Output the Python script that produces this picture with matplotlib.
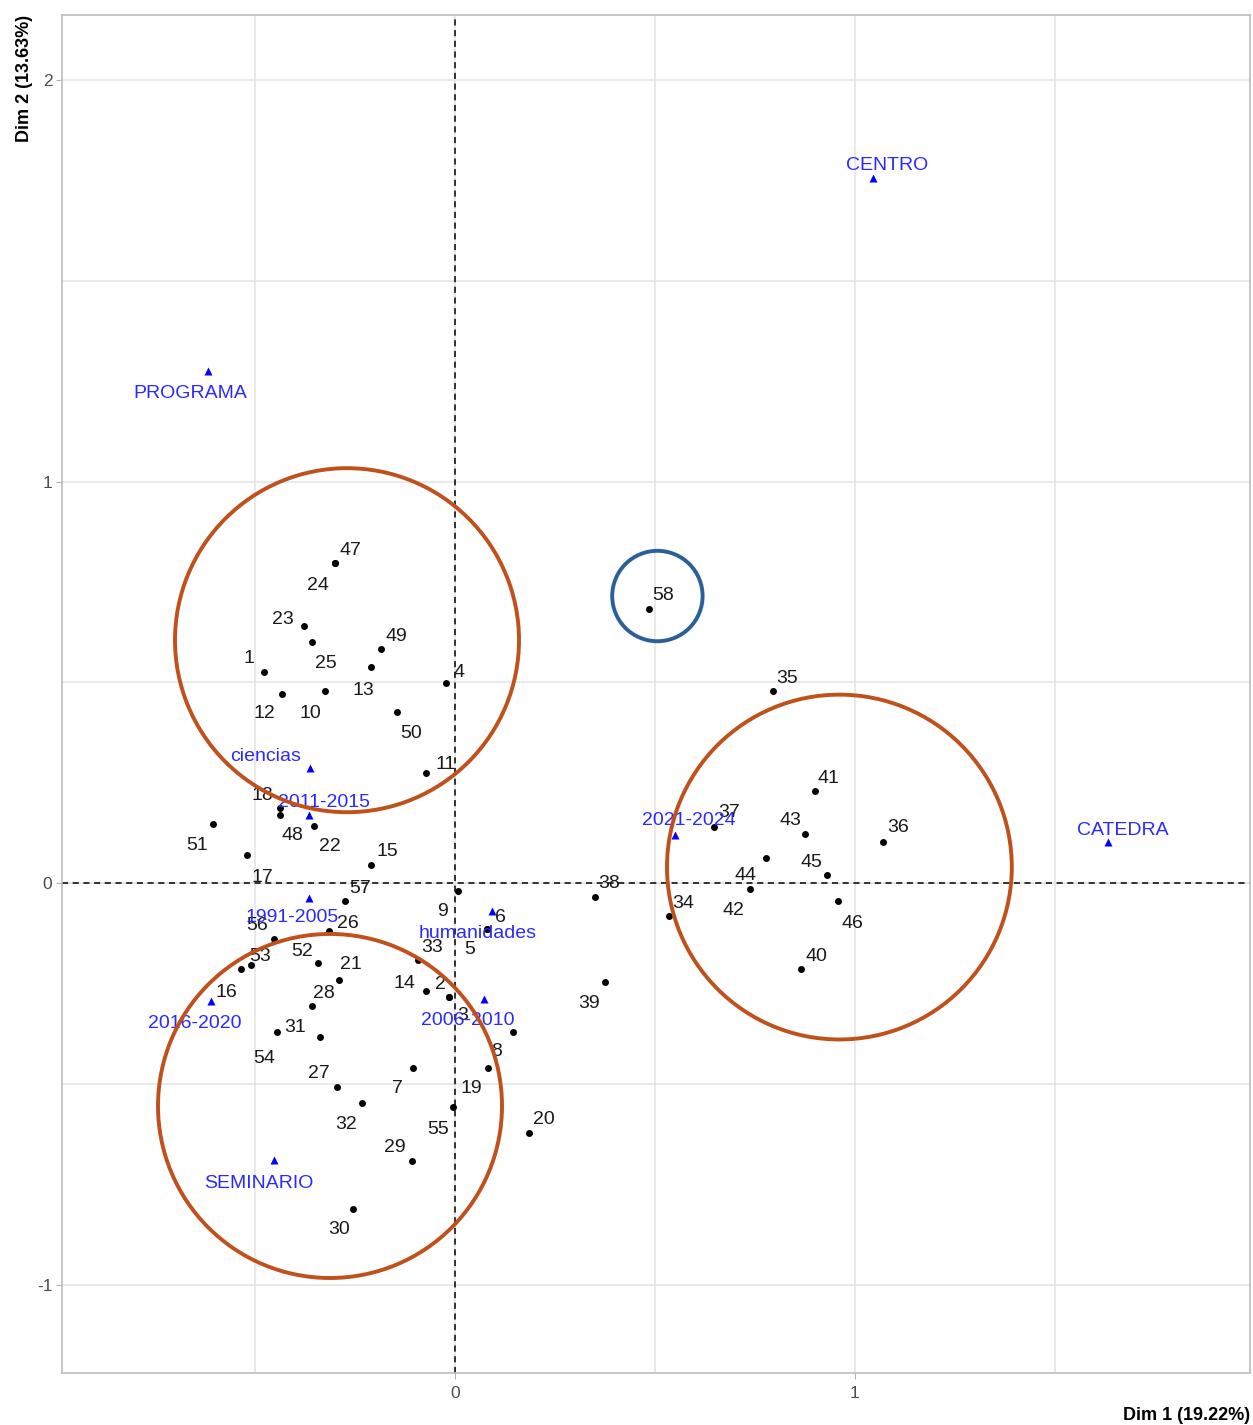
import matplotlib
matplotlib.use("Agg")
import matplotlib.pyplot as plt
from matplotlib.patches import Ellipse
from matplotlib.ticker import MultipleLocator

plt.rcParams['font.family'] = ['Liberation Sans', 'DejaVu Sans']
plt.rcParams['axes.unicode_minus'] = False

# ---------------- data ----------------
ind_labels = [str(i) for i in range(1, 59)]
ind_x = [-0.478, -0.015, -0.015, -0.023, 0.080, 0.080, -0.105, 0.145, 0.008, -0.325,
         -0.073, -0.433, -0.210, -0.073, -0.210, -0.535, -0.520, -0.438, 0.083, 0.185,
         -0.290, -0.353, -0.378, -0.300, -0.358, -0.315, -0.295, -0.358, -0.108, -0.255,
         -0.338, -0.233, -0.093, 0.535, 0.795, 1.070, 0.648, 0.350, 0.375, 0.865,
         0.900, 0.738, 0.875, 0.778, 0.930, 0.958, -0.300, -0.438, -0.185, -0.145,
         -0.605, -0.343, -0.510, -0.445, -0.005, -0.453, -0.275, 0.485]
ind_y = [0.526, -0.284, -0.284, 0.498, -0.115, -0.115, -0.461, -0.371, -0.020, 0.478,
         0.274, 0.471, 0.538, -0.269, 0.045, -0.214, 0.070, 0.187, -0.461, -0.623,
         -0.242, 0.142, 0.640, 0.797, 0.600, -0.120, -0.508, -0.306, -0.692, -0.812,
         -0.384, -0.548, -0.192, -0.082, 0.478, 0.102, 0.139, -0.035, -0.247, -0.214,
         0.229, -0.015, 0.122, 0.062, 0.020, -0.045, 0.797, 0.169, 0.583, 0.426,
         0.147, -0.199, -0.204, -0.371, -0.558, -0.139, -0.045, 0.682]

sup_labels = ["PROGRAMA", "CENTRO", "CATEDRA", "ciencias", "2011-2015", "1991-2005",
              "humanidades", "2006-2010", "2016-2020", "SEMINARIO", "2021-2024"]
sup_x = [-0.618, 1.045, 1.633, -0.363, -0.365, -0.365, 0.093, 0.073, -0.610, -0.453, 0.550]
sup_y = [1.275, 1.756, 0.102, 0.286, 0.169, -0.037, -0.070, -0.289, -0.294, -0.690, 0.120]

xlabel = "Dim 1 (19.22%)"
ylabel = "Dim 2 (13.63%)"

# ---------------- layout / style (label offsets in pixels, y down) ----------------
ind_offsets = {
    "1": (-15, -15), "2": (-9, -15), "3": (14, 16), "4": (13, -13), "5": (-17, 18),
    "6": (13, -14), "7": (-16, 18), "8": (-16, 17), "9": (-16, 18), "10": (-15, 20),
    "11": (20, -11), "12": (-17, 18), "13": (-8, 21), "14": (-21, -10), "15": (16, -16),
    "16": (-15, 21), "17": (15, 20), "18": (-17, -15), "19": (-17, 18), "20": (15, -16),
    "21": (12, -18), "22": (16, 18), "23": (-21, -9), "24": (-17, 20), "25": (14, 19),
    "26": (19, -10), "27": (-18, -16), "28": (12, -14), "29": (-17, -15), "30": (-14, 18),
    "31": (-25, -12), "32": (-16, 19), "33": (14, -15), "34": (14, -15), "35": (14, -15),
    "36": (15, -17), "37": (15, -17), "38": (14, -16), "39": (-16, 19), "40": (15, -15),
    "41": (13, -15), "42": (-17, 19), "43": (-15, -16), "44": (-21, 15), "45": (-16, -15),
    "46": (14, 20), "47": (15, -15), "48": (13, 18), "49": (15, -15), "50": (14, 19),
    "51": (-16, 19), "52": (-16, -14), "53": (9, -11), "54": (-13, 24), "55": (-15, 20),
    "56": (-17, -15), "57": (15, -15), "58": (14, -16),
}
sup_offsets = {
    "PROGRAMA": (-17, 20), "CENTRO": (14, -15), "CATEDRA": (15, -14),
    "ciencias": (-44, -14), "2011-2015": (15, -15), "1991-2005": (-17, 18),
    "humanidades": (-15, 20), "2006-2010": (-16, 19), "2016-2020": (-16, 20),
    "SEMINARIO": (-15, 21), "2021-2024": (14, -16),
}
label_shift_down = 2
# hand-drawn highlight circles (center x, center y, radius in data units, colour)
highlights = [(-0.270, 0.605, 0.43, '#C0501C'),
              (-0.3125, -0.555, 0.43, '#C0501C'),
              (0.961, 0.040, 0.431, '#C0501C'),
              (0.506, 0.715, 0.113, '#2A6099')]

fig = plt.figure(figsize=(12.53, 14.25), dpi=100)
ax = fig.add_axes([62/1253, 1-1373/1425, (1250-62)/1253, (1373-15)/1425])
ax.set_xlim(-0.9825, 1.9875)
ax.set_ylim(-1.220, 2.162)

ax.xaxis.set_major_locator(MultipleLocator(1))
ax.yaxis.set_major_locator(MultipleLocator(1))
ax.xaxis.set_minor_locator(MultipleLocator(0.5))
ax.yaxis.set_minor_locator(MultipleLocator(0.5))
ax.grid(True, which='both', color='#e3e3e3', lw=1.1, zorder=0)
ax.set_axisbelow(True)
ax.tick_params(which='major', length=4, color='#b0b0b0', labelcolor='#4d4d4d', labelsize=12.5)
ax.tick_params(axis='x', which='major', pad=5)
ax.tick_params(axis='y', which='major', pad=3)
ax.tick_params(which='minor', length=0)
for s in ax.spines.values():
    s.set_color('#bdbdbd')
    s.set_linewidth(1.2)

ax.axhline(0, color='black', ls=(0, (4, 3)), lw=1.1, zorder=1)
ax.axvline(0, color='black', ls=(0, (4, 3)), lw=1.1, zorder=1)

ax.plot(ind_x, ind_y, 'o', color='black', ms=5, zorder=3, mec='none')
ax.plot(sup_x, sup_y, '^', color='blue', ms=5.2, zorder=3, mec='none')

for lab, x, y in zip(ind_labels, ind_x, ind_y):
    dx, dy = ind_offsets[lab]
    ax.annotate(lab, (x, y), xytext=(dx, -(dy + label_shift_down)), textcoords='offset pixels',
                ha='center', va='center', fontsize=14, color='#1a1a1a', zorder=4)
for lab, x, y in zip(sup_labels, sup_x, sup_y):
    dx, dy = sup_offsets[lab]
    ax.annotate(lab, (x, y), xytext=(dx, -(dy + label_shift_down)), textcoords='offset pixels',
                ha='center', va='center', fontsize=14, color='#2a2aff', zorder=4)

for cx, cy, r, col in highlights:
    ax.add_patch(Ellipse((cx, cy), 2*r, 2*r*400/401.5, fill=False, ec=col, lw=2.8, zorder=5))

ax.set_xlabel(xlabel, loc='right', fontsize=13, fontweight='bold', labelpad=5)
ax.set_ylabel(ylabel, loc='top', fontsize=13, fontweight='bold', labelpad=3)

fig.savefig("out.png", dpi=100)
